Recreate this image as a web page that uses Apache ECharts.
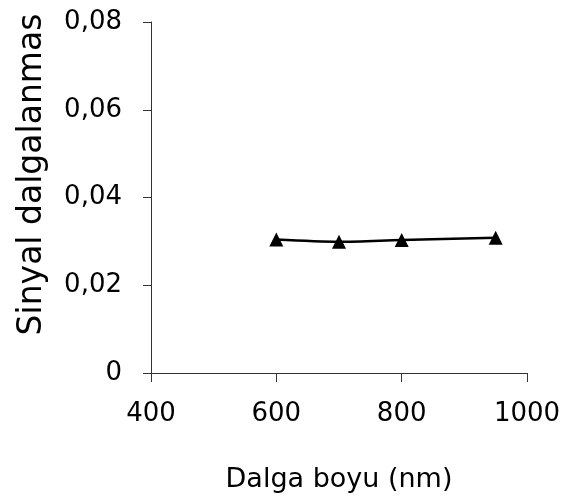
<!DOCTYPE html>
<html>
<head>
<meta charset="utf-8">
<script src="https://cdn.jsdelivr.net/npm/echarts@6/dist/echarts.min.js"></script>
<style>
  html, body { margin: 0; padding: 0; background: #fff; }
  #chart { width: 565px; height: 499px; }
</style>
</head>
<body>
<div id="chart"></div>
<script>
// dalga boyu (nm) ve sinyal dalgalanmasi
var wavelengths = [600, 700, 800, 950];
var ripple = [0.0304, 0.0299, 0.0303, 0.0308];
var yTicks = [0, 0.02, 0.04, 0.06, 0.08];
var xTicks = [400, 600, 800, 1000];

var points = [];
for (var i = 0; i < wavelengths.length; i++) {
  points.push([wavelengths[i], ripple[i]]);
}

var font = 'DejaVu Sans';
var myChart = echarts.init(document.getElementById('chart'));
var option = {
  animation: false,
  backgroundColor: '#fff',
  grid: { left: 151, right: 38, top: 22, bottom: 126, outerBoundsMode: 'none' },
  xAxis: {
    type: 'value',
    min: xTicks[0],
    max: xTicks[xTicks.length - 1],
    interval: 200,
    name: 'Dalga boyu (nm)',
    nameLocation: 'middle',
    nameGap: 93,
    nameTextStyle: { fontFamily: font, fontSize: 27, color: '#000' },
    axisLine: { lineStyle: { color: '#333', width: 1 } },
    axisTick: { length: 9, lineStyle: { color: '#333' } },
    axisLabel: {
      fontFamily: font, fontSize: 26, color: '#000', margin: 28,
      formatter: function (v) { return String(v); }
    },
    splitLine: { show: false }
  },
  yAxis: {
    type: 'value',
    min: yTicks[0],
    max: yTicks[yTicks.length - 1],
    interval: 0.02,
    name: 'Sinyal dalgalanmas',
    nameLocation: 'middle',
    nameGap: 102,
    nameTextStyle: { fontFamily: font, fontSize: 33, color: '#000', padding: [0, 0, 0, 46] },
    axisLine: { show: true, lineStyle: { color: '#333', width: 1 } },
    axisTick: { show: true, length: 8, lineStyle: { color: '#333' } },
    axisLabel: {
      fontFamily: font, fontSize: 26, color: '#000', margin: 29,
      formatter: function (v) { return v === 0 ? '0' : v.toFixed(2).replace('.', ','); }
    },
    splitLine: { show: false }
  },
  series: [{
    type: 'line',
    data: points,
    smooth: 0.3,
    symbol: 'triangle',
    symbolSize: 14,
    lineStyle: { color: '#000', width: 2.5 },
    itemStyle: { color: '#000' }
  }]
};
myChart.setOption(option);
</script>
</body>
</html>
